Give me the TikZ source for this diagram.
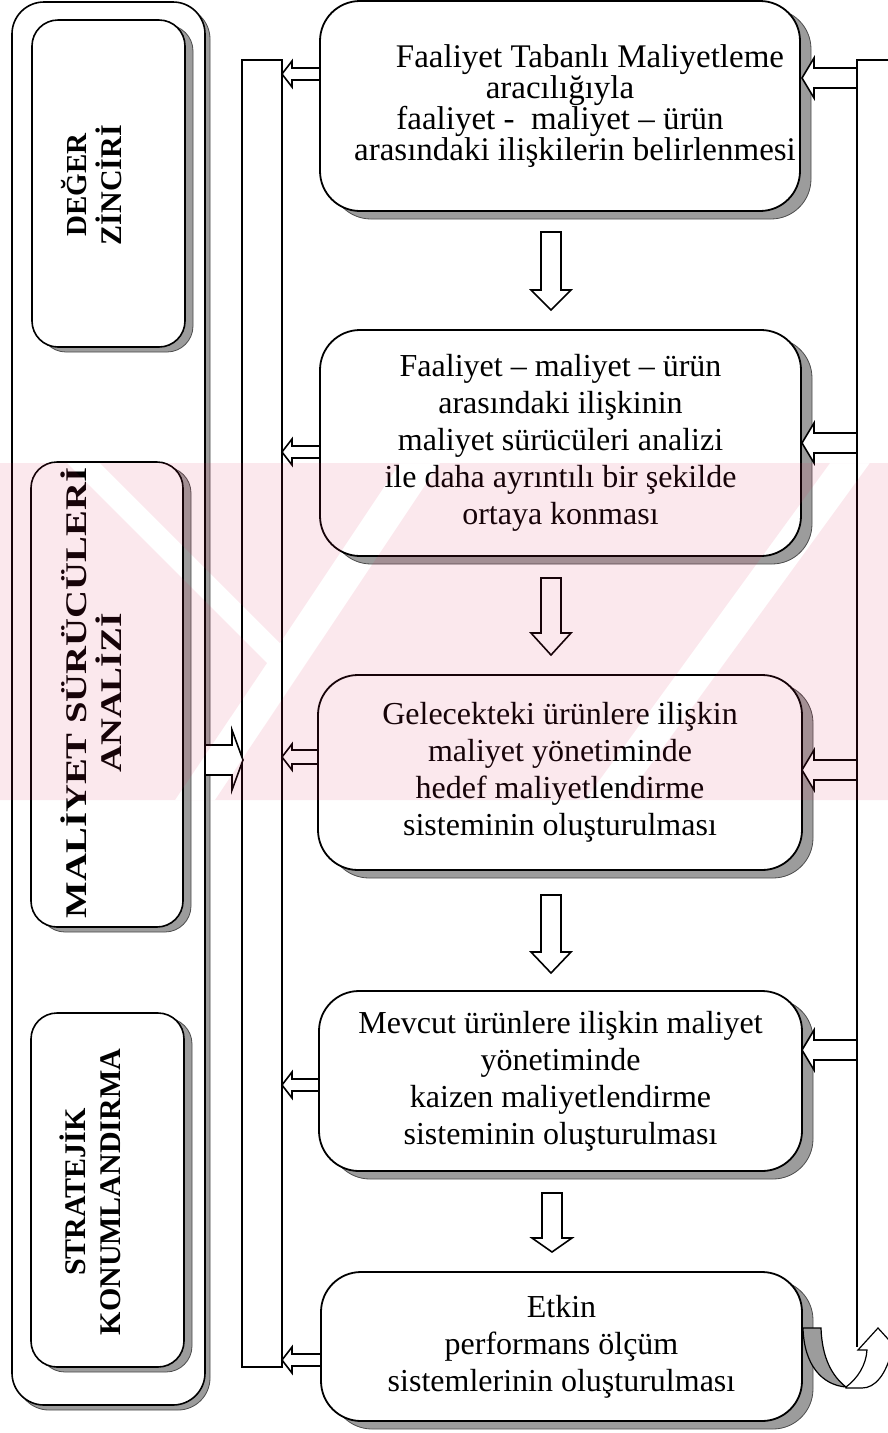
\documentclass[tikz,border=0pt]{standalone}
\usepackage{fontspec}
\setmainfont{Liberation Serif}
\usetikzlibrary{shadows}
\definecolor{shd}{HTML}{9C9C9C}
\definecolor{wmk}{RGB}{225,35,85}
\newcommand{\harrow}[6]{\draw[blk] (#1,#4) -- (#2,{#4-#6}) -- (#2,{#4-#5}) -- (#3,{#4-#5}) -- (#3,{#4+#5}) -- (#2,{#4+#5}) -- (#2,{#4+#6}) -- cycle;}
\newcommand{\varrow}[6]{\draw[blk] (#4,#1) -- ({#4-#6},#2) -- ({#4-#5},#2) -- ({#4-#5},#3) -- ({#4+#5},#3) -- ({#4+#5},#2) -- ({#4+#6},#2) -- cycle;}
\begin{document}
\begin{tikzpicture}[x=1pt,y=-1pt,
  mbox/.style={draw, line width=1.8pt, fill=white, rounded corners=40pt, align=center, inner sep=0pt,
    font=\fontsize{32}{37}\selectfont,
    drop shadow={shadow xshift=11pt, shadow yshift=-8pt, fill=shd, draw=black!70, line width=0.8pt, opacity=1}},
  lbox/.style={draw, line width=1.6pt, fill=white, rounded corners=26pt, inner sep=0pt,
    drop shadow={shadow xshift=8pt, shadow yshift=-5pt, fill=shd, draw=black!70, line width=0.8pt, opacity=1}},
  obox/.style={draw, line width=1.6pt, fill=white, rounded corners=32pt, inner sep=0pt,
    drop shadow={shadow xshift=5pt, shadow yshift=-5pt, fill=shd, draw=black!70, line width=0.8pt, opacity=1}},
  lbl/.style={font=\bfseries\fontsize{30}{35}\selectfont, align=center, inner sep=0pt},
  blk/.style={draw, fill=white, line width=1.6pt, line join=miter},
  ln/.style={draw, line width=1.6pt}
]
\useasboundingbox (0,0) rectangle (888,1433);
\fill[white] (0,0) rectangle (888,1433);

% left column
\node[obox, minimum width=193pt, minimum height=1403pt] (outer) at (108.5,703.5) {};
\node[lbox, minimum width=153pt, minimum height=327pt] (l1) at (108.5,183.5) {};
\node[lbox, minimum width=152pt, minimum height=465pt] (l2) at (107,694.5) {};
\node[lbox, minimum width=153pt, minimum height=354pt] (l3) at (107.5,1190) {};
\node[lbl, rotate=90] (t1) at (92,185) {\fontsize{29}{35}\selectfont DEĞER\\ZİNCİRİ};
\node[lbl, rotate=90] (t2) at (91,693) {\scalebox{1.29}[1]{MALİYET SÜRÜCÜLERİ}\\\scalebox{1.24}[1]{ANALİZİ}};
\node[lbl, rotate=90] (t3) at (90,1192) {STRATEJİK\\KONUMLANDIRMA};

% bar
\draw[ln] (242,60) rectangle (282,1367);

% main boxes
\node[mbox, minimum width=480pt, minimum height=210pt, font=\fontsize{33}{29}\selectfont] (b1) at (560,106)
  {\hspace*{60pt}Faaliyet Tabanlı Maliyetleme\\aracılığıyla\\faaliyet -\ \ maliyet – ürün\\\hspace*{30pt}arasındaki ilişkilerin belirlenmesi};
\node[mbox, minimum width=481pt, minimum height=226pt] (b2) at (560.5,443)
  {Faaliyet – maliyet – ürün\\arasındaki ilişkinin\\maliyet sürücüleri analizi\\ile daha ayrıntılı bir şekilde\\ortaya konması};
\node[mbox, minimum width=484pt, minimum height=195pt] (b3) at (560,772.5)
  {Gelecekteki ürünlere ilişkin\\maliyet yönetiminde\\hedef maliyetlendirme\\sisteminin oluşturulması};
\node[mbox, minimum width=483pt, minimum height=180pt] (b4) at (560.5,1081)
  {Mevcut ürünlere ilişkin maliyet\\yönetiminde\\kaizen maliyetlendirme\\sisteminin oluşturulması};
\node[mbox, minimum width=481pt, minimum height=149pt] (b5) at (561.5,1346.5)
  {Etkin\\performans ölçüm\\sistemlerinin oluşturulması};

% right feedback line
\draw[ln] (888,60) -- (857,60) -- (857,1347);

% down arrows
\varrow{310}{290}{232}{551}{10}{20}
\varrow{655}{633}{578}{551}{10}{20}
\varrow{973}{952}{895}{551}{10}{20}
\varrow{1252}{1238}{1193}{552}{10}{20}

% left arrows (boxes -> bar)
\harrow{282}{292}{320}{74}{6}{13}
\harrow{282}{292}{320}{452}{6}{13}
\harrow{282}{292}{318}{757}{7}{13}
\harrow{282}{292}{319}{1085}{6}{13}
\harrow{282}{292}{321}{1360}{6}{13}

% right arrows (line -> boxes)
\harrow{802}{814}{857}{78}{10}{20}
\harrow{802}{814}{857}{443}{10}{20}
\harrow{802}{814}{857}{770}{10}{20}
\harrow{802}{814}{857}{1050}{10}{20}

% arrow from left column into bar
\harrow{243}{232}{205}{760}{15}{30}

% U-turn arrow
\filldraw[fill=shd, draw=black, line width=1.2pt] (803,1328) -- (821,1328) .. controls (822,1358) and (832,1376) .. (846,1387) .. controls (822,1385) and (804,1365) .. (803,1328) -- cycle;
\filldraw[fill=white, draw=black, line width=1.2pt] (846,1387) .. controls (858,1378) and (866,1365) .. (867,1350) -- (858,1350) -- (878,1328) -- (898,1350) -- (892,1350) .. controls (886,1375) and (875,1388) .. (862,1388) -- (846,1388) -- cycle;

% watermark
\begin{scope}
\clip (0,463) rectangle (888,800);
\fill[wmk, opacity=0.1, even odd rule] (0,463) rectangle (888,800)
  (400,463) -- (440,463) -- (215,800) -- (175,800) -- (267,663) -- (67,463) -- (100,463) -- (280,643) -- cycle
  (830,463) -- (870,463) -- (625,800) -- (585,800) -- cycle;
\end{scope}
\end{tikzpicture}
\end{document}
